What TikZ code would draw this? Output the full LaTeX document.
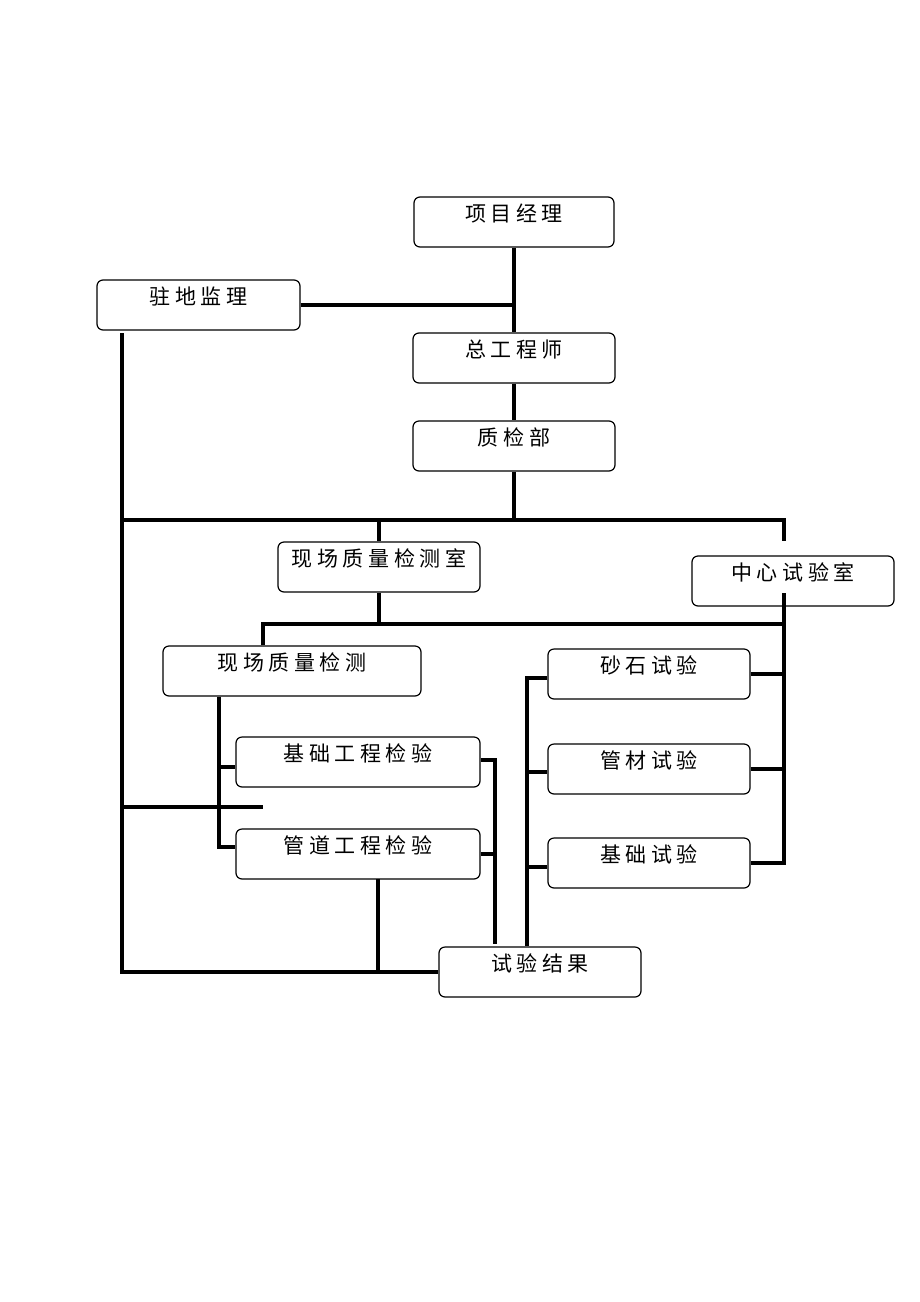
\documentclass[tikz,border=0pt]{standalone}
\usepackage{fontspec}
\newfontfamily\cjk[LetterSpace=22]{Noto Sans CJK SC}
\begin{document}
\begin{tikzpicture}[x=1pt,y=-1pt,
  box/.style={draw,rounded corners=6pt,line width=1.2pt,inner sep=0pt,minimum height=50pt,
    text height=17pt,text depth=19pt,font=\cjk\fontsize{21}{21}\selectfont},
  wire/.style={line width=3.4pt}]
\useasboundingbox (0,0) rectangle (920,1302);
% boxes
\node[box,minimum width=200pt] (pm) at (514,222) {项目经理};
\node[box,minimum width=203pt] (jl) at (198.5,305) {驻地监理};
\node[box,minimum width=202pt] (ce) at (514,358) {总工程师};
\node[box,minimum width=202pt] (qc) at (514,446) {质检部};
\node[box,minimum width=202pt] (fr) at (379,567) {现场质量检测室};
\node[box,minimum width=202pt] (cl) at (793,581) {中心试验室};
\node[box,minimum width=258pt] (fi) at (292,671) {现场质量检测};
\node[box,minimum width=202pt] (ss) at (649,674) {砂石试验};
\node[box,minimum width=244pt] (jc) at (358,762) {基础工程检验};
\node[box,minimum width=202pt] (gc) at (649,769) {管材试验};
\node[box,minimum width=244pt] (gd) at (358,854) {管道工程检验};
\node[box,minimum width=202pt] (jt) at (649,863) {基础试验};
\node[box,minimum width=202pt] (res) at (540,972) {试验结果};
% coordinates
\coordinate (t1) at (514,520);
\coordinate (bL) at (122,520);
\coordinate (bR) at (784,520);
\coordinate (bRe) at (784,541);
\coordinate (L1) at (122,333);
\coordinate (L2) at (122,972);
\coordinate (g1) at (378,879);
\coordinate (m0) at (263,624);
\coordinate (m1) at (379,624);
\coordinate (m2) at (784,624);
\coordinate (c1) at (784,593);
\coordinate (r1) at (527,678);
\coordinate (r2) at (527,772);
\coordinate (r3) at (527,867);
\coordinate (f2) at (219,847);
\coordinate (f3) at (219,767);
\coordinate (h1) at (122,807);
\coordinate (h2) at (263,807);
\coordinate (k1) at (495,760);
\coordinate (k2) at (495,944);
% connectors
\draw[wire] (pm) -- (ce);
\draw[wire] (jl.east) -- (jl.east -| pm.south);
\draw[wire] (ce) -- (qc);
\draw[wire] (qc.south) -- (t1);
\draw[wire] (bL) -- (bR) -- (bRe);
\draw[wire] (fr.north) -- (fr.north |- bL);
\draw[wire] (L1) -- (L2) -- (res.west |- L2);
\draw[wire] (g1) -- (g1 |- L2);
\draw[wire] (fr.south) -- (m1) -- (m2);
\draw[wire] (fi.north -| m0) -- (m0) -- (m1);
\draw[wire] (c1) -- (c1 |- jt.east) -- (jt.east);
\draw[wire] (ss.east) -- (ss.east -| c1);
\draw[wire] (gc.east) -- (gc.east -| c1);
\draw[wire] (ss.west |- r1) -- (r1) -- (r1 |- res.north);
\draw[wire] (r2) -- (r2 -| gc.west);
\draw[wire] (r3) -- (r3 -| jt.west);
\draw[wire] (fi.south -| f2) -- (f2) -- (f2 -| gd.west);
\draw[wire] (f3) -- (f3 -| jc.west);
\draw[wire] (h1) -- (h2);
\draw[wire] (k1 -| jc.east) -- (k1) -- (k2);
\draw[wire] (gd.east) -- (gd.east -| k1);
\end{tikzpicture}
\end{document}
